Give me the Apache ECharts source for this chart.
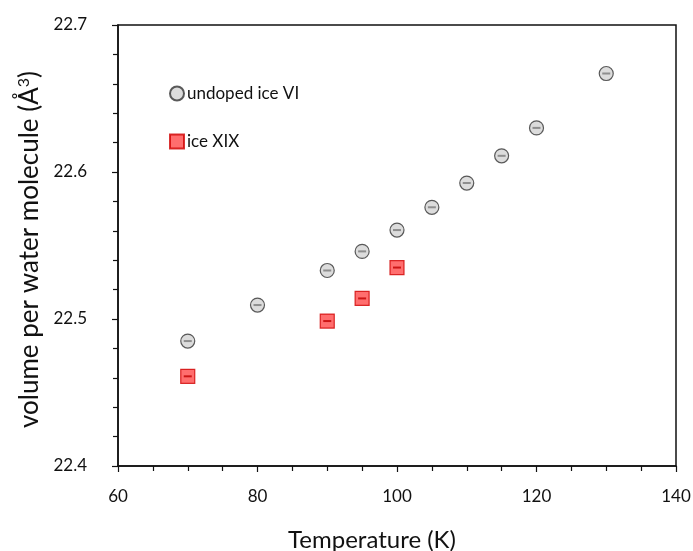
<!DOCTYPE html>
<html><head><meta charset="utf-8">
<script src="https://cdn.jsdelivr.net/npm/echarts@6/dist/echarts.min.js"></script>
<style>html,body{margin:0;padding:0;background:#fff}#c{width:693px;height:551px}</style>
</head><body><div id="c"></div>
<script>
const xTicks = [60, 80, 100, 120, 140];
const yTicks = [22.4, 22.5, 22.6, 22.7];
const iceVI_T = [70, 80, 90, 95, 100, 105, 110, 115, 120, 130];
const iceVI_V = [22.485, 22.5095, 22.533, 22.546, 22.5605, 22.576, 22.5925, 22.611, 22.630, 22.667];
const iceXIX_T = [70, 90, 95, 100];
const iceXIX_V = [22.461, 22.4986, 22.514, 22.535];
const seriesNames = ['undoped ice VI', 'ice XIX'];

const vi = iceVI_T.map((t, i) => [t, iceVI_V[i]]);
const xix = iceXIX_T.map((t, i) => [t, iceXIX_V[i]]);
const font = 'Lato, "Open Sans", sans-serif';

const chart = echarts.init(document.getElementById('c'));
chart.setOption({
  animation: false,
  backgroundColor: '#fff',
  grid: { left: 118, right: 17, top: 25, bottom: 85, outerBoundsMode: 'none', containLabel: false,
    show: true, borderColor: '#111', borderWidth: 1.5, backgroundColor: 'transparent' },
  legend: {
    data: seriesNames,
    orient: 'vertical', left: 164, top: 80, itemGap: 31,
    itemWidth: 14, itemHeight: 14,
    textStyle: { fontFamily: font, fontSize: 17, color: '#111', padding: [0, 0, 0, -2] }
  },
  xAxis: {
    type: 'value', min: xTicks[0], max: xTicks[xTicks.length - 1], interval: 20,
    name: 'Temperature (K)', nameLocation: 'middle', nameGap: 62,
    nameTextStyle: { fontFamily: font, fontSize: 24, color: '#111', padding: [0, 50, 0, 0] },
    axisLine: { show: true, lineStyle: { color: '#111', width: 1.5 } },
    axisTick: { show: true, length: 6, lineStyle: { color: '#111', width: 1.2 } },
    minorTick: { show: true, splitNumber: 4, length: 5, lineStyle: { color: '#111', width: 1.2 } },
    axisLabel: { fontFamily: font, fontSize: 17, color: '#111', margin: 22 },
    splitLine: { show: false }
  },
  yAxis: {
    type: 'value', min: yTicks[0], max: yTicks[yTicks.length - 1], interval: 0.1,
    name: 'volume per water molecule (Å{sup|3})', nameLocation: 'middle', nameGap: 74,
    nameTextStyle: { fontFamily: font, fontSize: 26, color: '#111', padding: [0, 8, 0, 0],
      rich: { sup: { fontFamily: font, fontSize: 16, color: '#111', verticalAlign: 'top', padding: [0, 0, 12, 0] } } },
    axisLine: { show: true, lineStyle: { color: '#111', width: 1.5 } },
    axisTick: { show: true, length: 6, lineStyle: { color: '#111', width: 1.2 } },
    minorTick: { show: true, splitNumber: 5, length: 5, lineStyle: { color: '#111', width: 1.2 } },
    axisLabel: { fontFamily: font, fontSize: 17, color: '#111', margin: 31, formatter: v => v.toFixed(1) },
    splitLine: { show: false }
  },
  series: [
    { name: seriesNames[0], type: 'scatter', data: vi, symbol: 'circle', symbolSize: 14,
      itemStyle: { color: '#d3d3d3', borderColor: '#333', borderWidth: 1.2 }, z: 3 },
    { name: seriesNames[1], type: 'scatter', data: xix, symbol: 'rect', symbolSize: 14,
      itemStyle: { color: '#ff4a4a', borderColor: '#d00000', borderWidth: 1.2 }, z: 3 },
    { name: 'vi_err', type: 'scatter', data: vi, symbol: 'rect', symbolSize: [8, 2],
      itemStyle: { color: '#7a7a7a' }, z: 4, silent: true },
    { name: 'xix_err', type: 'scatter', data: xix, symbol: 'rect', symbolSize: [8, 2],
      itemStyle: { color: '#c00000' }, z: 4, silent: true }
  ]
});
</script></body></html>
